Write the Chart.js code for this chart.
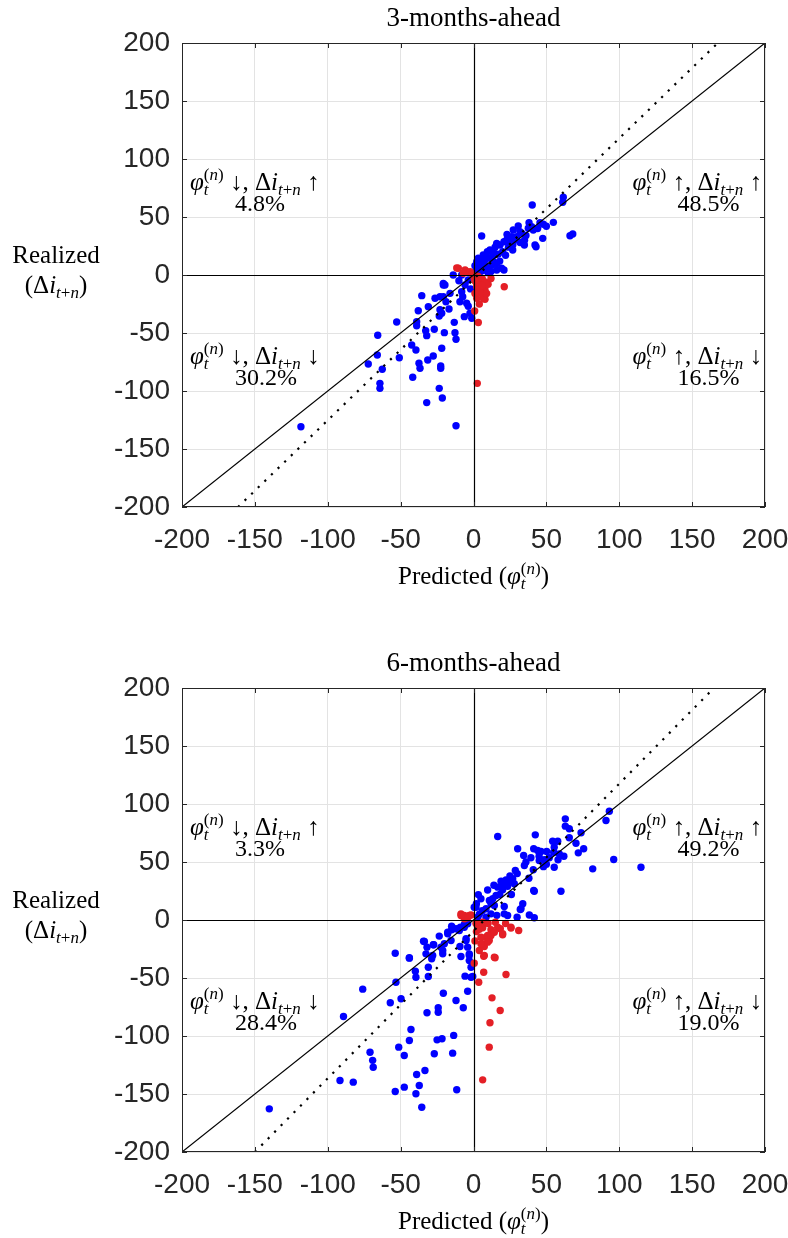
<!DOCTYPE html>
<html>
<head>
<meta charset="utf-8">
<script src="https://cdn.jsdelivr.net/npm/chart.js@4.4.1/dist/chart.umd.min.js"></script>
<style>
  html, body { margin: 0; padding: 0; background: #fff; overflow: hidden; }
  .panel { position: absolute; left: 0; width: 788px; height: 600px; }
  #p3 { top: 0; }
  #p6 { top: 645px; }
</style>
</head>
<body>
<div class="panel" id="p3"><canvas id="chart3" width="788" height="600"></canvas></div>
<div class="panel" id="p6"><canvas id="chart6" width="788" height="600"></canvas></div>
<script>
// ---- data (x = predicted, y = realized) ----
const titles = ['3-months-ahead', '6-months-ahead'];

// 3-months-ahead: correct sign (blue) and wrong sign (red)
const blue3 = [
  [61.6,67],[61.2,62.7],[40.3,60.3],[47.9,43.7],[54.8,45.4],[45.6,45.1],[66.2,33.9],[68.1,35.3],
  [47.5,31.6],[42.2,25.9],[42.9,24.4],[34.9,25.9],[38.1,45.1],[39.9,41.6],[37.6,40.3],[41,38.8],
  [30.7,42.2],[31.9,37.3],[27.3,38.8],[26.2,33],[29.6,33],[22.8,30.2],[20.9,28.7],[18.2,25.9],
  [25,27.3],[26.9,21.6],[15.9,27.3],[14.8,23.9],[11.3,21.6],[9.5,20.1],[5.6,33.6],[6.7,17.2],
  [3.3,14.4],[2.2,11.5],[4.5,10.1],[7.9,12.9],[11.3,14.4],[13.6,11.5],[19.3,5.8],[15.9,4.3],
  [20.9,4.3],[12.5,8.6],[10.2,5.8],[33,36],[35,30],[28,30],[24,24],[20,20],[17,18],[13,16],
  [9,15],[6,12],[4,6],[8,8],[2,4],[5,3],[12,3],[16,10],[22,17],[27,26],[44,40],[50,42],
  [36,34],[18,12],[10,2],[3,2],[7,4],[1,8],[14,19],[23,35],[32,28],
  [-13.9,0],[-20.7,-8.6],[-35.5,-17.8],[-26.4,-20.1],[-18.9,-23],[-31,-27.3],[-37.9,-30.8],
  [-23,-30],[-21.8,-33],[-23.5,-35.3],[-16.8,-29.3],[-52.7,-40.5],[-39,-40.3],[-39,-43.7],
  [-26.9,-46.8],[-32.8,-48],[-32.1,-52.3],[-13.2,-40.8],[-20,-49.7],[-12.7,-49.7],[-12,-55.4],
  [-65.7,-52],[-42.4,-60.3],[-39.5,-64.7],[-21.8,-63.2],[-50.9,-71.3],[-66,-69],[-72.2,-76.7],
  [-62.6,-81.3],[-31.4,-73.3],[-27.6,-69.8],[-37.4,-76.1],[-36.7,-80.4],[-22.5,-78.4],
  [-22.5,-80.4],[-41.7,-88.2],[-64.2,-93.4],[-64.2,-97.7],[-23.5,-97.7],[-21.4,-106],
  [-32.1,-110],[-12,-129.9],[-118.4,-130.8],[-5.8,-8.6],[-8.1,-14.4],[-7.4,-18.7],[-4.7,-24.4],
  [-6.3,-35.9],[-1.2,-37.3],[-9.3,-23],[-19.6,-8.6],[-20.7,-18.7],[-16.1,-15.8],[-3.6,-4.3],
  [-23,-18.7],[-8.1,0],[-3.6,-27],[-2.4,-33],[-20.7,-7.2],[-2,-12],[-10,-5]
];
const red3 = [
  [-11.5,6],[-4.7,2.9],[-10.4,5.8],[-5.8,4.3],[-2.3,2.9],[-1,1],[-7,1.5],
  [2.6,-93.4],[0.8,-31],[3.3,-41],[4.5,-4.3],[5.6,-12.9],[2.2,-20.1],[7.9,-21],[21.1,-10.1],
  [0.5,-3],[2.2,-10.1],[3.3,-12.9],[7.9,-12.9],[6.7,-20.1],[1,-2],[3,-1],[6,-3],[8,-6],
  [2,-7],[10,-8],[5,-15],[1,-16],[9,-16],[4,-25],[6,-9],[12,-3],[1,-5]
];

// 6-months-ahead
const blue6 = [
  [63,87.2],[63,80.9],[65.7,78.6],[93.2,93.8],[90.9,85.8],[16.6,72],[42.4,73.4],[54.3,67.9],
  [57.8,67.9],[55.4,62.8],[65.7,70.9],[70.3,66.2],[73.8,75.2],[75.6,61.4],[71.9,57.9],[30.3,61.4],
  [41.3,61.4],[44,59.9],[46.3,59],[50.2,59],[55,58.4],[58.9,57],[39.4,53.6],[45.1,51.3],
  [48.6,51.9],[52,53.6],[34.4,55.6],[34.9,47],[55.4,45.5],[41,43.3],[28.7,42.7],[81.8,44.1],
  [96.2,52.2],[114.9,45.5],[60,24.8],[41.3,25.4],[18.9,33.4],[22.3,34.6],[24.6,33.4],[26.9,35.5],
  [20,31.2],[16.6,28.3],[23.4,29],[28,31.2],[9.7,25.9],[15.5,21.1],[3.3,21.9],[13.2,18.3],
  [10.9,16.8],[5.1,18.3],[1.7,11],[8.6,9.7],[14.3,12.5],[21.1,11.6],[33.8,14],[32.6,9.7],
  [38.3,4.3],[41.7,1.9],[29.9,2.4],[23.4,3.9],[21.1,5.3],[2.9,2.4],[8.6,2.4],[12,5.3],
  [41.7,24.8],[32.1,9.1],[0.5,11],[2,14],[25,38],[30,40],[20,26],[36,50],[45,55],[50,48],
  [18,22],[12,14],[6,8],[26,22],[14,30],[38,36],[48,46],[4,5],[16,4],[58,52],[62,55],
  [-140.1,-162.8],[-89.2,-83.2],[-76,-59.6],[-91.6,-138.4],[-82.5,-139.8],[-71,-114],
  [-69.2,-121],[-68.8,-126.9],[-53.7,-28.6],[-53.2,-53.6],[-57.1,-71.4],[-49.7,-67.9],
  [-44,-32.9],[-39.9,-44.1],[-39.5,-49.3],[-42.9,-94.4],[-44,-103.9],[-51.3,-109.6],
  [-47.5,-116.8],[-53.7,-147.8],[-47.5,-144.1],[-39,-133.2],[-33.3,-129.7],[-37.2,-142.7],
  [-39.5,-149.8],[-35.5,-161.4],[-31.9,-80],[-24.2,-75.7],[-24.2,-79.5],[-20.7,-63.1],
  [-25,-103.3],[-21.6,-102.4],[-26.9,-115.3],[-14.3,-114.8],[-13.6,-99.5],[-11.5,-146.4],
  [-12,-69.4],[-7,-75.7],[-4,-61.4],[-5.8,-48.4],[-0.5,-48.7],[-31,-40.7],[-31,-48.7],
  [-34.3,-18.3],[-31.9,-23.4],[-32.6,-29.2],[-27.6,-21.4],[-23.5,-13.9],[-20,-20.5],
  [-21.1,-26.3],[-28.7,-33.5],[-17.7,-11.9],[-15,-8.4],[-15.4,-17.7],[-9.3,-22.8],[-9.7,-9.1],
  [-6.3,-6.2],[-4,-3.3],[-5.1,-16.2],[-4,-23.4],[-2.9,-29.2],[-2.9,-35],[-1.7,-40.7],
  [-8.6,-31.5],[-15,-5.3],[-17.7,-10.5],[-27.3,-21.4],[-33.7,-18.5],[-22.3,-23.4],
  [-21.1,-29.1],[-28,-30.6],[-44,-32.6],[-12,-7.6],[-9,-6.2],[-6.3,-3.9],[-1.7,-49.3],
  [-2.9,-30.6],[-5.1,-17.7]
];
const red6 = [
  [-8.6,5.3],[-1.7,4.3],[-6.3,1],[-8.6,3.9],[-2.9,3.9],[-6.3,3.9],[-4,2],
  [6.3,-137.8],[10.8,-109.6],[11.3,-88.6],[12.7,-67.1],[18.3,-78],[22.3,-47],[7,-45],
  [3.6,-53.6],[0.5,-37.2],[4,-26.3],[7.4,-30.6],[14.8,-32.6],[7,-31.2],[6.3,-20.5],
  [8.6,-14.8],[12,-8.4],[6.3,-6.7],[7.4,-22.8],[5.1,-14.8],[10.8,-17.7],[9.7,-13.3],
  [18.4,-7.6],[20,-12.8],[25.7,-7],[31,-9],[25.7,-6.2],[12,-13.4],[9.7,-19.1],[5.1,-20.5],
  [14.3,-32.1],[16.6,-6.2],[20,-11.9],[14.3,-10.5],[1.7,-3],[6.3,-2],[3,-5],[10,-3],
  [2,-10],[15,-2],[22,-3],[1,-18],[4,-8]
];

// regression lines: [slope, intercept]; 45-degree line over the axis range
const fit3 = [1.215, -3.7];
const fit6 = [1.27, -9.5];
const axisRange = [-200, 200];
const tickStep = 50;

// quadrant shares: upper-left, upper-right, lower-left, lower-right
const pct3 = ['4.8%', '48.5%', '30.2%', '16.5%'];
const pct6 = ['3.3%', '49.2%', '28.4%', '19.0%'];

// ---- rich (LaTeX-like) text helpers ----
const SERIF = '"Liberation Serif", "DejaVu Serif", serif';
const SANS = '"Liberation Sans", Arial, sans-serif';
const B = 25, S = 17;

function fnt(size, it){ return (it ? 'italic ' : '') + size + 'px ' + SERIF; }

function phi(){
  return [
    {t:'φ', it:true, s:B},
    {stack:[[{t:'t', it:true, s:S, dy:5}],
            [{t:'(', s:S, dy:-10}, {t:'n', it:true, s:S, dy:-10}, {t:')', s:S, dy:-10}]]}
  ];
}
function di(){
  return [{t:'Δ', s:B}, {t:'i', it:true, s:B}, {t:'t', it:true, s:S, dy:5}, {t:'+', s:S, dy:5}, {t:'n', it:true, s:S, dy:5}];
}
function quadLabel(up1, up2){
  return [...phi(), {t:' ' + (up1 ? '↑' : '↓') + ', ', s:B}, ...di(), {t:' ' + (up2 ? '↑' : '↓'), s:B}];
}

function layoutRich(ctx, toks){
  const out = [];
  let x = 0;
  toks.forEach(tk => {
    if (tk.stack) {
      let maxW = 0;
      tk.stack.forEach(line => {
        let lx = x;
        line.forEach(p => {
          ctx.font = fnt(p.s, p.it);
          out.push({t:p.t, f:ctx.font, x:lx, dy:p.dy || 0});
          lx += ctx.measureText(p.t).width;
        });
        maxW = Math.max(maxW, lx - x);
      });
      x += maxW;
    } else {
      ctx.font = fnt(tk.s, tk.it);
      out.push({t:tk.t, f:ctx.font, x, dy:tk.dy || 0});
      x += ctx.measureText(tk.t).width;
    }
  });
  return {out, w:x};
}

function drawRich(ctx, toks, x, y, align){
  const L = layoutRich(ctx, toks);
  const x0 = align === 'right' ? x - L.w : align === 'center' ? x - L.w / 2 : x;
  ctx.textAlign = 'left';
  ctx.textBaseline = 'alphabetic';
  L.out.forEach(o => { ctx.font = o.f; ctx.fillText(o.t, x0 + o.x, y + o.dy); });
  return x0;
}

// ---- plugin: MATLAB-style box, zero lines, inward ticks and LaTeX labels ----
const matlabLook = {
  id: 'matlabLook',
  afterDatasetsDraw(chart, args, opts){
    const {ctx, chartArea:a, scales:{x, y}} = chart;
    ctx.save();
    const zx = Math.round(x.getPixelForValue(0)) + 0.5;
    const zy = Math.round(y.getPixelForValue(0)) + 0.5;
    ctx.strokeStyle = '#000';
    ctx.lineWidth = 1.2;
    ctx.beginPath();
    ctx.moveTo(zx, a.top); ctx.lineTo(zx, a.bottom);
    ctx.moveTo(a.left, zy); ctx.lineTo(a.right, zy);
    ctx.stroke();

    ctx.strokeStyle = '#262626';
    ctx.lineWidth = 1;
    ctx.strokeRect(a.left + 0.5, a.top + 0.5, a.width - 1, a.height - 1);
    ctx.beginPath();
    x.ticks.forEach(t => {
      const px = Math.round(x.getPixelForValue(t.value)) + 0.5;
      ctx.moveTo(px, a.top); ctx.lineTo(px, a.top + 5);
      ctx.moveTo(px, a.bottom); ctx.lineTo(px, a.bottom - 5);
    });
    y.ticks.forEach(t => {
      const py = Math.round(y.getPixelForValue(t.value)) + 0.5;
      ctx.moveTo(a.left, py); ctx.lineTo(a.left + 5, py);
      ctx.moveTo(a.right, py); ctx.lineTo(a.right - 5, py);
    });
    ctx.stroke();

    ctx.fillStyle = '#000';
    // title
    ctx.font = '27px ' + SERIF;
    ctx.textAlign = 'center';
    ctx.textBaseline = 'alphabetic';
    ctx.fillText(opts.title, (a.left + a.right) / 2, a.top - 17);

    // quadrant labels
    const up = zy - 86, dn = zy + 88;
    let sx;
    sx = drawRich(ctx, quadLabel(false, true), a.left + 8, up, 'left');
    ctx.font = fnt(B - 1, false); ctx.fillText(opts.pct[0], sx + 45, up + 21);
    sx = drawRich(ctx, quadLabel(true, true), a.right - 3, up, 'right');
    ctx.font = fnt(B - 1, false); ctx.fillText(opts.pct[1], sx + 45, up + 21);
    sx = drawRich(ctx, quadLabel(false, false), a.left + 8, dn, 'left');
    ctx.font = fnt(B - 1, false); ctx.fillText(opts.pct[2], sx + 45, dn + 21);
    sx = drawRich(ctx, quadLabel(true, false), a.right - 3, dn, 'right');
    ctx.font = fnt(B - 1, false); ctx.fillText(opts.pct[3], sx + 45, dn + 21);

    // axis titles
    ctx.font = fnt(B, false);
    ctx.textAlign = 'center';
    ctx.fillText('Realized', 56, zy - 13);
    drawRich(ctx, [{t:'(', s:B}, ...di(), {t:')', s:B}], 56, zy + 17, 'center');
    drawRich(ctx, [{t:'Predicted (', s:B}, ...phi(), {t:')', s:B}], (a.left + a.right) / 2, a.bottom + 77, 'center');
    ctx.restore();
  }
};

function toPts(arr){ return arr.map(p => ({x:p[0], y:p[1]})); }

function fitLine(f){
  // end points where the fitted line meets the top and bottom of the axis range
  return axisRange.map(yv => ({x:(yv - f[1]) / f[0], y:yv}));
}

function makeChart(id, blue, red, fit, title, pct){
  const ctx = document.getElementById(id).getContext('2d');
  const gridColor = c => (c.tick && c.tick.value === 0) ? 'rgba(0,0,0,0)' : '#e3e3e3';
  const tickFont = {family:SANS, size:28};
  return new Chart(ctx, {
    type: 'scatter',
    data: {
      datasets: [
        {type:'line', data:axisRange.map(v => ({x:v, y:v})), borderColor:'#000', borderWidth:1.2,
         pointRadius:0, fill:false},
        {type:'line', data:fitLine(fit), borderColor:'#000', borderWidth:2.2, borderDash:[2.2, 7],
         pointRadius:0, fill:false},
        {data:toPts(red), backgroundColor:'#e41f26', borderWidth:0, pointRadius:3.7},
        {data:toPts(blue), backgroundColor:'#0000ff', borderWidth:0, pointRadius:3.7}
      ]
    },
    options: {
      responsive: false,
      devicePixelRatio: 1,
      animation: false,
      layout: {padding:{left:0, right:23, top:43, bottom:0}},
      plugins: {legend:{display:false}, tooltip:{enabled:false}, matlabLook:{title, pct}},
      scales: {
        x: {
          type:'linear', min:axisRange[0], max:axisRange[1],
          grid:{color:gridColor, lineWidth:1, drawTicks:false},
          border:{display:false},
          ticks:{stepSize:tickStep, color:'#262626', font:tickFont, padding:16, maxRotation:0, autoSkip:false},
          afterFit: s => { s.height = 93; s.paddingLeft = 0; s.paddingRight = 0; }
        },
        y: {
          type:'linear', min:axisRange[0], max:axisRange[1],
          grid:{color:gridColor, lineWidth:1, drawTicks:false},
          border:{display:false},
          ticks:{stepSize:tickStep, color:'#262626', font:tickFont, padding:12, autoSkip:false},
          afterFit: s => { s.width = 182; s.paddingTop = 0; s.paddingBottom = 0; }
        }
      }
    },
    plugins: [matlabLook]
  });
}

makeChart('chart3', blue3, red3, fit3, titles[0], pct3);
makeChart('chart6', blue6, red6, fit6, titles[1], pct6);
</script>
</body>
</html>
